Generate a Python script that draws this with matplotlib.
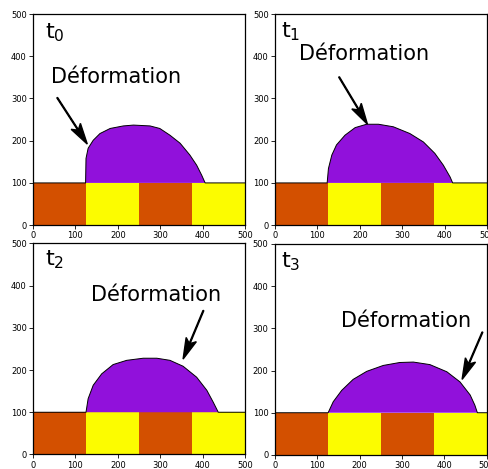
import matplotlib
matplotlib.use('Agg')
import matplotlib.pyplot as plt

# blocs du substrat
bloc_x = [0, 125, 250, 375]
bloc_largeur = 125
bloc_hauteur = 100
bloc_couleurs = ['#d35000', '#fcfc00', '#d35000', '#fcfc00']

# profils de la goutte a chaque instant
t0_x = [0, 124, 125, 130, 142, 158, 182, 213, 237, 276, 299, 323, 347, 370, 386, 398, 406, 500]
t0_y = [100, 100, 158, 182, 201, 217, 229, 235, 237, 235, 229, 213, 194, 166, 142, 118, 100, 100]

t1_x = [0, 123, 126, 134, 145, 165, 189, 216, 244, 279, 318, 350, 377, 397, 413, 419, 500]
t1_y = [100, 100, 134, 166, 190, 213, 231, 239, 239, 233, 217, 197, 170, 142, 114, 100, 100]

t2_x = [0, 125, 130, 142, 162, 189, 221, 260, 292, 323, 354, 386, 410, 425, 437, 500]
t2_y = [100, 100, 132, 164, 191, 213, 223, 228, 228, 223, 209, 183, 152, 124, 100, 100]

t3_x = [0, 126, 138, 158, 185, 217, 256, 295, 327, 366, 406, 437, 461, 472, 478, 500]
t3_y = [100, 100, 126, 153, 179, 198, 212, 219, 220, 214, 197, 173, 142, 118, 100, 100]

profils = [(t0_x, t0_y), (t1_x, t1_y), (t2_x, t2_y), (t3_x, t3_y)]
titres = ['t$_0$', 't$_1$', 't$_2$', 't$_3$']
titre_pos = [(28, 442), (15, 445), (28, 448), (15, 444)]
texte_pos = [(42, 351), (57, 405), (136, 378), (156, 318)]
fleche_debut = [(57, 302), (151, 351), (402, 341), (490, 291)]
fleche_fin = [(128, 192), (218, 239), (354, 226), (442, 179)]

fig = plt.figure(figsize=(4.89, 4.69), dpi=100)
positions = [
    [0.0675, 0.520, 0.4335, 0.450],
    [0.5624, 0.520, 0.4335, 0.450],
    [0.0675, 0.031, 0.4335, 0.450],
    [0.5618, 0.030, 0.4335, 0.450],
]

for i in range(4):
    ax = fig.add_axes(positions[i])
    # substrat
    ax.bar(bloc_x, bloc_hauteur, width=bloc_largeur, align='edge', color=bloc_couleurs, linewidth=0)
    # goutte
    px, py = profils[i]
    ax.fill(px, py, color='#9111db', linewidth=0)
    ax.plot(px, py, color='black', linewidth=0.7)

    ax.text(titre_pos[i][0], titre_pos[i][1], titres[i], fontsize=16, va='baseline', ha='left')
    ax.text(texte_pos[i][0], texte_pos[i][1], 'Déformation', fontsize=15, va='center', ha='left')
    # fleche vers la deformation
    x0, y0 = fleche_debut[i]
    x1, y1 = fleche_fin[i]
    ax.arrow(x0, y0, x1 - x0, y1 - y0, width=2, head_width=26, head_length=50,
             overhang=0.2, length_includes_head=True, color='black', clip_on=False)

    ax.set_xlim(0, 500)
    ax.set_ylim(0, 500)
    ax.set_xticks([0, 100, 200, 300, 400, 500])
    ax.set_yticks([0, 100, 200, 300, 400, 500])
    ax.tick_params(labelsize=6, length=3, width=0.6, pad=1.5)
    for s in ax.spines.values():
        s.set_linewidth(0.9)

plt.savefig('out.png', dpi=100)
